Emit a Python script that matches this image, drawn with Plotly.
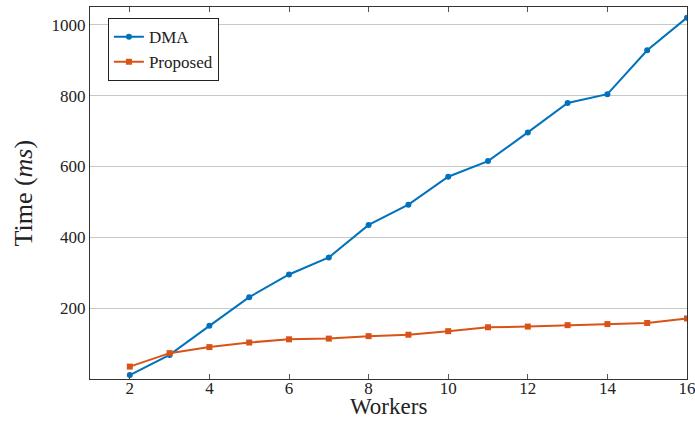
import plotly.graph_objects as go

workers = [2, 3, 4, 5, 6, 7, 8, 9, 10, 11, 12, 13, 14, 15, 16]
dma = [11, 68, 150, 231, 295, 343, 435, 492, 571, 615, 696, 779, 804, 928, 1020]
proposed = [35, 73, 90, 103, 112, 114, 121, 125, 135, 146, 148, 152, 155, 158, 171]
x_ticks = [2, 4, 6, 8, 10, 12, 14, 16]
y_ticks = [200, 400, 600, 800, 1000]

font_family = "Liberation Serif"

fig = go.Figure()
fig.add_trace(go.Scatter(
    x=workers, y=dma, name="DMA", mode="lines+markers",
    line=dict(color="#0072BD", width=2),
    marker=dict(symbol="circle", size=6, color="#0072BD"),
))
fig.add_trace(go.Scatter(
    x=workers, y=proposed, name="Proposed", mode="lines+markers",
    line=dict(color="#D95319", width=2),
    marker=dict(symbol="square", size=6, color="#D95319"),
))

fig.update_layout(
    width=695, height=421,
    margin=dict(l=90, r=8, t=7, b=42),
    paper_bgcolor="white", plot_bgcolor="white",
    font=dict(family=font_family, color="#222", size=17),
    legend=dict(
        x=0.03, y=0.97, xanchor="left", yanchor="top",
        bgcolor="white", bordercolor="#222", borderwidth=1,
        font=dict(family=font_family, size=17, color="#222"),
        tracegroupgap=0, itemwidth=30,
    ),
    xaxis=dict(
        range=[1, 16], tickvals=x_ticks, ticks="inside", ticklen=5,
        tickcolor="#555", showgrid=False, zeroline=False,
        showline=True, linecolor="#333", linewidth=1, mirror="ticks",
        automargin=False, tickfont=dict(family=font_family, size=17),
        ticklabeloverflow="allow", ticklabelstandoff=-6,
    ),
    yaxis=dict(
        range=[0, 1050], tickvals=y_ticks, ticks="", showgrid=True,
        gridcolor="#c8c8c8", gridwidth=1, zeroline=False,
        showline=True, linecolor="#333", linewidth=1, mirror=True,
        automargin=False, tickfont=dict(family=font_family, size=17),
    ),
    annotations=[
        dict(text="Workers", xref="paper", yref="paper", x=0.5, y=-0.073,
             xanchor="center", yanchor="middle", showarrow=False,
             font=dict(family=font_family, size=23, color="#222")),
        dict(text="Time (<i>ms</i>)", xref="paper", yref="paper", x=-0.113, y=0.5,
             xanchor="center", yanchor="middle", textangle=-90, showarrow=False,
             font=dict(family=font_family, size=26, color="#222")),
    ],
)

fig.write_html("out.html", config={"displayModeBar": False},
               post_script="document.body.style.margin='0';")
